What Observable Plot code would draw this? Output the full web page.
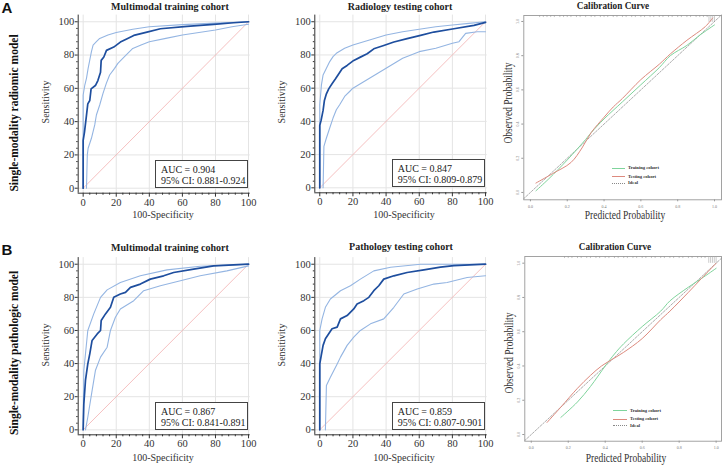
<!DOCTYPE html>
<html><head><meta charset="utf-8">
<script src="https://cdn.jsdelivr.net/npm/d3@7"></script>
<script src="https://cdn.jsdelivr.net/npm/@observablehq/plot@0.6"></script>
<style>
body{margin:0;background:#fff;}
#root{position:relative;width:726px;height:465px;overflow:hidden;background:#fff;font-family:"Liberation Serif","Times New Roman",serif;color:#222;}
#root svg, #root svg g, #root svg text{font-family:"Liberation Serif","Times New Roman",serif !important;}
.abs{position:absolute;}
.c{position:absolute;white-space:nowrap;line-height:1;font-family:"Liberation Serif","Times New Roman",serif;}
</style></head><body><div id="root"></div>
<script>
// ---------- data ----------
const rocTicks = [0, 20, 40, 60, 80, 100];
const rocMinor = [4, 8, 12, 16, 24, 28, 32, 36, 44, 48, 52, 56, 64, 68, 72, 76, 84, 88, 92, 96];
const diag = [0, 100];

// A: single-modality radiomic model, multimodal training cohort
const a1Main = [[0,0],[0,28.7],[0.8,33.7],[2,43.7],[2.8,50.7],[4,52.7],[4.8,59.7],[7.4,61.7],[8.9,64.7],[10.5,69.7],[10.9,76.8],[12.5,78.8],[14.1,82.8],[18.5,84.8],[22.5,87.8],[26.6,89.8],[30.6,91.8],[38.6,93.8],[46.7,95.8],[62.8,97.2],[78.9,98.4],[91,99.4],[100,100]];
const a1Upper = [[0,0],[0,56],[1,62],[2,66],[3,72],[5,82],[6,86],[8,88],[10,90],[15,92],[20,93.5],[30,95.5],[40,97],[60,98.3],[80,99.2],[100,100]];
const a1Lower = [[2,0],[2.5,20],[3,24],[5,30],[7,38],[8,44],[10,50],[12,57],[14,63],[16,68],[19,72],[21,75],[25,79],[30,84],[35,86],[40,88],[50,90],[60,92],[70,93.5],[80,95],[90,97],[100,98.5]];
// A: radiology testing cohort
const a2Main = [[0,0],[0,37.6],[0.8,40.6],[2,46.6],[2.8,52.6],[4,56.6],[5.4,59.6],[7.4,62.7],[9.5,65.7],[11.5,68.7],[13.5,71.7],[16.5,73.7],[20.5,76.7],[24.5,78.7],[28.6,80.7],[32.6,83.7],[38.6,85.7],[44.7,87.8],[52.7,89.8],[60.8,91.8],[68.8,93.8],[80.9,95.8],[93,97.8],[100,99.6]];
const a2Upper = [[0,0],[0,50],[1,62],[2,68],[4,72],[6,76],[8,79],[10,81],[15,84],[20,86],[30,89],[40,92],[50,94],[60,95.5],[70,97],[80,98],[90,99],[100,100]];
const a2Lower = [[2,0],[2.5,25],[4,30],[6,36],[8,42],[10,47],[12,50],[15,55],[18,58],[20,60],[25,63],[30,66],[35,69],[40,72],[45,75],[50,78],[55,80],[60,82],[70,84],[80,87],[84,88],[88,93],[95,94],[100,94]];
// B: single-modality pathologic model, multimodal training cohort
const b1Main = [[0,0],[0.4,15.7],[1.4,29.8],[2.8,39.8],[4,45.9],[5.4,54],[8.5,57.9],[10.5,60],[10.9,66],[13.5,70],[16.5,74],[18.5,80],[22.5,82],[25.6,83],[28.6,86],[34.6,88],[40.6,91],[48.7,93],[54.7,95],[66.8,97],[78.9,99],[100,100]];
const b1Upper = [[0,0],[0.4,35.8],[2.8,60],[6.4,70],[10.5,80],[14.5,84.5],[22.5,89],[34.6,93],[50.7,96.6],[70.8,98.8],[100,100]];
const b1Lower = [[1.4,0],[2.8,7.6],[5.4,23.7],[7.4,35.8],[10.5,43.9],[14.5,49.9],[16.5,60],[19.5,68],[22.5,73],[30.6,78],[36.6,84],[46.7,87],[58.8,90],[70.8,93],[86.9,96],[100,99]];
// B: pathology testing cohort
const b2Main = [[0,0],[0,39.8],[0.8,44.3],[2,51],[3.4,55],[5.4,58],[7.4,61],[10.5,62],[12.5,67],[16.5,69],[20.5,73],[22.5,76],[26.6,78],[29.6,80],[32.6,84],[35.6,87],[38.6,91],[44.7,93],[52.7,95],[62.8,96.6],[72.8,98.2],[80.9,99.2],[100,100]];
const b2Upper = [[0,0],[0,60],[1.4,67],[3.4,74],[6.4,79],[12.5,84],[18.5,87],[24.5,91],[32.6,96],[42.7,98.2],[60.8,100],[100,100]];
const b2Lower = [[3.4,0],[4,26.8],[6.4,31.8],[10.5,39.8],[12.5,43.9],[16.5,51],[20.5,56],[24.5,60],[30.6,64],[38.6,67],[44.7,74],[50.7,82],[58.8,85],[68.8,88],[76.8,89],[88.9,92],[100,93]];

// calibration curves
const calTicks = [0, 0.2, 0.4, 0.6, 0.8, 1.0];
const a3Train = [[0.03,0.01],[0.10,0.08],[0.20,0.19],[0.30,0.31],[0.33,0.35],[0.40,0.43],[0.50,0.53],[0.60,0.63],[0.70,0.73],[0.76,0.80],[0.85,0.86],[0.92,0.92],[1.0,0.98]];
const a3Test = [[0.03,0.055],[0.12,0.11],[0.22,0.175],[0.28,0.26],[0.33,0.35],[0.40,0.44],[0.45,0.50],[0.50,0.55],[0.60,0.66],[0.70,0.75],[0.76,0.81],[0.85,0.89],[0.95,0.97],[0.99,1.02]];
const a3Rug = [0.05,0.07,0.09,0.11,0.13,0.16,0.18,0.2,0.22,0.25,0.27,0.3,0.33,0.35,0.38,0.4,0.42,0.45,0.47,0.5,0.52,0.55,0.57,0.6,0.62,0.65,0.67,0.7,0.72,0.75,0.77,0.8,0.82,0.85,0.87,0.9,0.92,0.94,0.96];
const a3RugTall = [0.97,0.98,0.99,1.0];
const b3Train = [[0.16,0.10],[0.25,0.19],[0.32,0.28],[0.40,0.40],[0.45,0.47],[0.50,0.53],[0.60,0.63],[0.70,0.72],[0.75,0.78],[0.85,0.86],[0.92,0.91],[1.0,0.97]];
const b3Test = [[0.085,0.07],[0.16,0.16],[0.25,0.27],[0.32,0.345],[0.38,0.40],[0.44,0.44],[0.50,0.48],[0.60,0.56],[0.70,0.67],[0.75,0.72],[0.85,0.83],[0.92,0.91],[1.0,1.0]];
const b3Rug = [0.18,0.2,0.22,0.25,0.27,0.3,0.32,0.35,0.37,0.4,0.42,0.45,0.47,0.5,0.52,0.55,0.57,0.6,0.62,0.65,0.67,0.7,0.72,0.75,0.77,0.8,0.82,0.85,0.87,0.9,0.92,0.94];
const b3RugTall = [0.96,0.97,0.98,0.99,1.0];

const titles = ["Multimodal training cohort", "Radiology testing cohort", "Calibration Curve", "Multimodal training cohort", "Pathology testing cohort", "Calibration Curve"];
const rowLabels = ["Single-modality radiomic model", "Single-modality pathologic model"];
const aucText = ["AUC = 0.904", "AUC = 0.847", "AUC = 0.867", "AUC = 0.859"];
const ciText = ["95% CI: 0.881-0.924", "95% CI: 0.809-0.879", "95% CI: 0.841-0.891", "95% CI: 0.807-0.901"];
const legendLabels = ["Training cohort", "Testing cohort", "Ideal"];

// ---------- helpers ----------
const root = document.getElementById("root");
function put(node, left, top) {
  const d = document.createElement("div");
  d.className = "abs"; d.style.left = left + "px"; d.style.top = top + "px";
  d.appendChild(node); root.appendChild(d);
}
function txt(s, x, y, css, rot, sx) {
  const d = document.createElement("div");
  d.className = "c"; d.textContent = s;
  d.style.left = x + "px"; d.style.top = y + "px";
  d.style.transform = "translate(-50%,-50%)" + (rot ? " rotate(" + rot + "deg)" : "") + (sx ? " scaleX(" + sx + ")" : "");
  Object.assign(d.style, css || {});
  root.appendChild(d); return d;
}
function ltxt(s, x, y, css) {
  const d = document.createElement("div");
  d.className = "c"; d.textContent = s;
  d.style.left = x + "px"; d.style.top = y + "px";
  d.style.transform = "translateY(-50%)";
  Object.assign(d.style, css || {});
  root.appendChild(d); return d;
}
function box(l, t, w, h) {
  const d = document.createElement("div");
  d.className = "abs";
  Object.assign(d.style, {left: l + "px", top: t + "px", width: w + "px", height: h + "px", border: "1px solid #444", boxSizing: "border-box", background: "#fff"});
  root.appendChild(d);
}
function seg(l, t, w, style) {
  const d = document.createElement("div");
  d.className = "abs";
  Object.assign(d.style, {left: l + "px", top: t + "px", width: w + "px", height: "0px", borderTop: style});
  root.appendChild(d);
}

const serif = "Liberation Serif, Times New Roman, serif";
const rocX = [-3, 101], rocY = [-3, 104];
function rocPlot(o) {
  return Plot.plot({
    width: o.w, height: o.h, marginLeft: o.ml, marginRight: o.mr, marginTop: o.mt, marginBottom: o.mb,
    style: {fontFamily: serif, fontSize: "10.5px", color: "#333", background: "transparent", overflow: "visible"},
    x: {domain: rocX}, y: {domain: rocY},
    marks: [
      Plot.gridX(rocTicks, {stroke: "#e4e4e4", strokeOpacity: 1}),
      Plot.gridY(rocTicks, {stroke: "#e4e4e4", strokeOpacity: 1}),
      Plot.line(diag, {x: d => d, y: d => d, stroke: "#f3b0b0", strokeWidth: 0.8}),
      Plot.line(o.upper, {stroke: "#94b5e2", strokeWidth: 1.1}),
      Plot.line(o.lower, {stroke: "#94b5e2", strokeWidth: 1.1}),
      Plot.line(o.main, {stroke: "#1e4e9e", strokeWidth: 1.7}),
      Plot.ruleX([rocX[0]], {stroke: "#333", strokeWidth: 1}),
      Plot.ruleY([rocY[0]], {stroke: "#333", strokeWidth: 1}),
      Plot.axisX(rocTicks, {tickSize: 4, tickPadding: 1, label: null, stroke: "#333", fontFamily: serif}),
      Plot.axisX(rocMinor, {tickSize: 2, tickFormat: () => "", label: null, stroke: "#333"}),
      Plot.axisY(rocTicks, {tickSize: 3, tickPadding: 1, label: null, stroke: "#333", fontFamily: serif}),
      Plot.axisY(rocMinor, {tickSize: 1.5, tickFormat: () => "", label: null, stroke: "#333"})
    ]
  });
}
function calPlot(o) {
  const top = o.yd[1];
  return Plot.plot({
    width: o.w, height: o.h, marginLeft: o.ml, marginRight: o.mr, marginTop: o.mt, marginBottom: o.mb,
    style: {fontFamily: serif, fontSize: "4px", color: "#777", background: "transparent", overflow: "visible"},
    x: {domain: o.xd}, y: {domain: o.yd},
    marks: [
      Plot.frame({stroke: "#999", strokeWidth: 0.9}),
      Plot.ruleX(o.rug, {x: d => d, y1: top, y2: top - 0.012, stroke: "#999", strokeWidth: 0.6}),
      Plot.ruleX(o.rugTall, {x: d => d, y1: top, y2: top - 0.04, stroke: "#aaa", strokeWidth: 0.6}),
      Plot.line(o.xd, {x: d => d, y: d => d, stroke: "#888", strokeWidth: 0.7, strokeDasharray: "2,1.5"}),
      Plot.line(o.train, {stroke: "#7fd49c", strokeWidth: 1, curve: "catmull-rom"}),
      Plot.line(o.test, {stroke: "#dd8a7e", strokeWidth: 1, curve: "catmull-rom"}),
      Plot.axisX(calTicks, {tickSize: 2, tickPadding: 3, tickFormat: d3.format(".1f"), label: null, stroke: "#999", fontFamily: serif}),
      Plot.axisY(calTicks, {tickSize: 2, tickPadding: 3, tickFormat: d3.format(".1f"), tickRotate: -90, label: null, stroke: "#999", fontFamily: serif})
    ]
  });
}

// ---------- ROC panels ----------
put(rocPlot({w: 260, h: 230, ml: 77.7, mr: 10.3, mt: 14.6, mb: 37.3, main: a1Main, upper: a1Upper, lower: a1Lower}), 0, 0);
put(rocPlot({w: 255, h: 230, ml: 74.3, mr: 8.3, mt: 14.6, mb: 37.7, main: a2Main, upper: a2Upper, lower: a2Lower}), 240, 0);
put(rocPlot({w: 260, h: 235, ml: 77.7, mr: 10.3, mt: 27.1, mb: 30.7, main: b1Main, upper: b1Upper, lower: b1Lower}), 0, 230);
put(rocPlot({w: 255, h: 235, ml: 74.3, mr: 8.3, mt: 27.1, mb: 30.7, main: b2Main, upper: b2Upper, lower: b2Lower}), 240, 230);

// ---------- calibration panels ----------
put(calPlot({w: 231, h: 230, ml: 28.3, mr: 5, mt: 15, mb: 30.7, xd: [-0.036, 1.038], yd: [-0.043, 1.035], train: a3Train, test: a3Test, rug: a3Rug, rugTall: a3RugTall}), 495, 0);
put(calPlot({w: 231, h: 235, ml: 29.3, mr: 5, mt: 26, mb: 24.3, xd: [-0.035, 1.029], yd: [-0.039, 1.039], train: b3Train, test: b3Test, rug: b3Rug, rugTall: b3RugTall}), 495, 230);

// ---------- texts ----------
const titleCss = {fontWeight: "bold", fontSize: "10px", color: "#222"};
txt(titles[0], 170, 7, titleCss);
txt(titles[1], 400, 7, titleCss);
txt(titles[2], 613, 6, titleCss, 0, 0.92);
txt(titles[3], 170, 248, titleCss);
txt(titles[4], 401, 247, titleCss);
txt(titles[5], 615, 247, titleCss, 0, 0.92);

const panelLetter = {fontFamily: "Liberation Sans, Arial, sans-serif", fontWeight: "bold", fontSize: "15px", color: "#111"};
txt("A", 7, 7, panelLetter);
txt("B", 7, 249, panelLetter);

const rowCss = {fontWeight: "bold", fontSize: "11.5px", color: "#111"};
txt(rowLabels[0], 15, 113, rowCss, -90);
txt(rowLabels[1], 15, 353, rowCss, -90);

const axCss = {fontSize: "10px", color: "#333"};
txt("Sensitivity", 46, 102, axCss, -90);
txt("Sensitivity", 282, 102, axCss, -90);
txt("Sensitivity", 46, 345, axCss, -90);
txt("Sensitivity", 282, 345, axCss, -90);
txt("100-Specificity", 163, 215, axCss);
txt("100-Specificity", 404, 215, axCss);
txt("100-Specificity", 163, 457.5, axCss);
txt("100-Specificity", 404, 457.5, axCss);

const calAx = {fontSize: "12.5px", color: "#333"};
txt("Observed Probability", 508, 103, calAx, -90, 0.76);
txt("Observed Probability", 508.5, 353, calAx, -90, 0.76);
txt("Predicted Probability", 625, 215, calAx, 0, 0.76);
txt("Predicted Probability", 626, 457.5, calAx, 0, 0.76);

// AUC boxes
const aucBoxes = [[155, 160], [391.7, 159], [155, 402.3], [391.7, 402.3]];
const aucCss = {fontSize: "10px", color: "#222"};
aucBoxes.forEach((b, i) => {
  box(b[0], b[1], 93.3, 28);
  ltxt(aucText[i], b[0] + 6, b[1] + 9.5, aucCss);
  ltxt(ciText[i], b[0] + 6, b[1] + 20.5, aucCss);
});

// calibration legends
const legCss = {fontWeight: "bold", fontSize: "4.6px", color: "#333"};
const legends = [[611.7, 628, [168.3, 176.7, 183.3]], [613, 630, [410.7, 419, 425.7]]];
const legStyles = ["1px solid #7fd49c", "1px solid #dd8a7e", "1px dotted #888"];
legends.forEach(L => {
  L[2].forEach((y, i) => {
    seg(L[0], y - 0.5, 13.5, legStyles[i]);
    ltxt(legendLabels[i], L[1], y, legCss);
  });
});
</script></body></html>
